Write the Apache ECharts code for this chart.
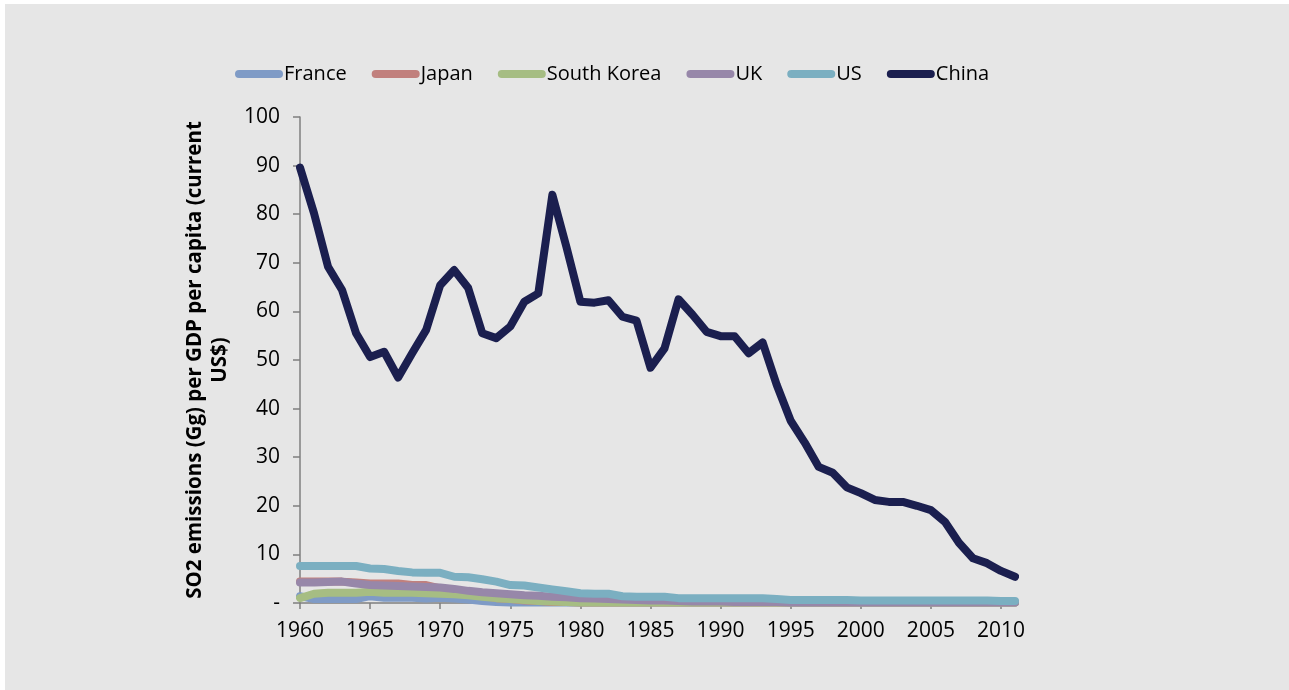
<!DOCTYPE html>
<html><head><meta charset="utf-8">
<script src="https://cdn.jsdelivr.net/npm/echarts@6/dist/echarts.min.js"></script>
<style>
html,body{margin:0;padding:0;background:#fff;width:1289px;height:690px;overflow:hidden}
#c{position:absolute;left:5px;top:4px;width:1284px;height:686px}
</style></head><body>
<div id="c"></div>
<script>
const years = [];
for (let y = 1960; y <= 2011; y++) years.push(String(y));
const seriesNames = ['France','Japan','South Korea','UK','US','China'];
const france = [1.4,0.8,0.8,0.8,0.8,1.4,1.1,1.1,1.1,0.9, 1.1,0.9,0.7,0.4,0.2,0.1,0.1,0.1,0.1,0.1, 0.1,0.1,0.1,0.1,0.1,0.1,0.1,0.1,0.1,0.1, 0.1,0.1,0.1,0.1,0.1,0.1,0.1,0.1,0.1,0.1, 0.1,0.1,0.1,0.1,0.1,0.1,0.1,0.1,0.1,0.1, 0.1,0.1];
const japan = [4.4,4.4,4.4,4.4,4.2,4.0,4.0,4.0,3.7,3.7, 3.0,2.6,2.0,1.5,1.0,0.8,0.5,0.4,0.2,0.2, 0.1,0.1,0.1,0.1,0.1,0.1,0.1,0.1,0.1,0.1, 0.1,0.1,0.1,0.1,0.1,0.1,0.1,0.1,0.1,0.1, 0.1,0.1,0.1,0.1,0.1,0.1,0.1,0.1,0.1,0.1, 0.1,0.1];
const southKorea = [1.0,1.9,2.1,2.1,2.1,2.3,2.1,2.1,2.1,2.0, 1.9,1.8,1.6,1.3,1.0,0.8,0.6,0.4,0.3,0.2, 0.1,0.1,0.1,0.1,0.1,0.1,0.1,0.1,0.1,0.1, 0.1,0.1,0.1,0.1,0.1,0.1,0.1,0.1,0.1,0.1, 0.1,0.1,0.1,0.1,0.1,0.1,0.1,0.1,0.1,0.1, 0.1,0.1];
const uk = [4.2,4.2,4.3,4.4,4.0,3.7,3.6,3.5,3.4,3.3, 3.2,2.9,2.5,2.2,2.0,1.8,1.6,1.5,1.3,1.2, 1.0,0.9,0.8,0.7,0.6,0.5,0.5,0.4,0.3,0.3, 0.3,0.2,0.2,0.2,0.2,0.1,0.1,0.1,0.1,0.1, 0.1,0.1,0.1,0.1,0.1,0.1,0.1,0.1,0.1,0.1, 0.1,0.1];
const us = [7.6,7.6,7.6,7.6,7.6,7.1,7.0,6.6,6.3,6.2, 6.2,5.4,5.3,4.9,4.4,3.7,3.6,3.2,2.8,2.4, 2.0,1.9,1.9,1.4,1.3,1.3,1.3,1.0,1.0,1.0, 1.0,1.0,1.0,1.0,0.8,0.6,0.6,0.6,0.6,0.6, 0.5,0.5,0.5,0.5,0.5,0.5,0.5,0.5,0.5,0.5, 0.4,0.4];
const china = [89.6,80.2,69.2,64.4,55.5,50.6,51.7,46.4,51.4,56.2, 65.4,68.5,64.8,55.5,54.5,56.9,62.0,63.7,84.0,73.3, 62.0,61.8,62.3,58.9,58.1,48.4,52.4,62.5,59.3,55.8, 54.9,54.9,51.4,53.6,44.9,37.5,33.0,28.0,26.8,23.8, 22.6,21.2,20.8,20.8,20.0,19.1,16.7,12.4,9.2,8.2, 6.6,5.4];
const yTicks = ['-','10','20','30','40','50','60','70','80','90','100'];
const yTitle = 'SO2 emissions (Gg) per GDP per capita (current\nUS$)';

const colors = ['#7f9bc6','#c1807d','#a6bd83','#9787a9','#7bafc1','#1b1f4f'];
const dataList = [france, japan, southKorea, uk, us, china];
const FONT = 'Open Sans';

const chart = echarts.init(document.getElementById('c'));
chart.setOption({
  backgroundColor: '#e6e6e6',
  animation: false,
  color: colors,
  textStyle: {fontFamily: FONT},
  legend: {
    left: 225, top: 55,
    itemWidth: 48, itemHeight: 8, itemGap: 25,
    icon: 'path://M4,0 H44 A4,4 0 0 1 44,8 H4 A4,4 0 0 1 4,0 Z',
    textStyle: {fontFamily: FONT, fontSize: 20, color: '#000', padding: [0,0,0,-4]},
    data: seriesNames
  },
  grid: {left: 295, top: 113, width: 715, height: 486, containLabel: false},
  xAxis: {
    type: 'category', data: years, boundaryGap: false,
    axisLine: {lineStyle: {color: '#7f7f7f', width: 1.5}},
    axisTick: {interval: 4, length: 6, lineStyle: {color: '#7f7f7f', width: 1.5}},
    axisLabel: {interval: 4, fontFamily: FONT, fontSize: 21, color: '#000', margin: 18}
  },
  yAxis: {
    type: 'value', min: 0, max: 100, interval: 10,
    name: yTitle, nameLocation: 'middle', nameRotate: 90, nameGap: 64,
    nameTextStyle: {fontFamily: FONT, fontSize: 20.5, fontWeight: 'bold', color: '#000', lineHeight: 25, align: 'center'},
    axisLine: {show: true, lineStyle: {color: '#7f7f7f', width: 1.5}},
    axisTick: {show: true, length: 7, lineStyle: {color: '#7f7f7f', width: 1.5}},
    splitLine: {show: false},
    axisLabel: {fontFamily: FONT, fontSize: 21, color: '#000', margin: 20,
      formatter: (v) => yTicks[Math.round(v / 10)]}
  },
  series: seriesNames.map((n, i) => ({
    name: n, type: 'line', data: dataList[i], showSymbol: false, symbol: 'none',
    lineStyle: {width: 8, color: colors[i], cap: 'round', join: 'round'},
    itemStyle: {color: colors[i]}
  }))
});
</script>
</body></html>
